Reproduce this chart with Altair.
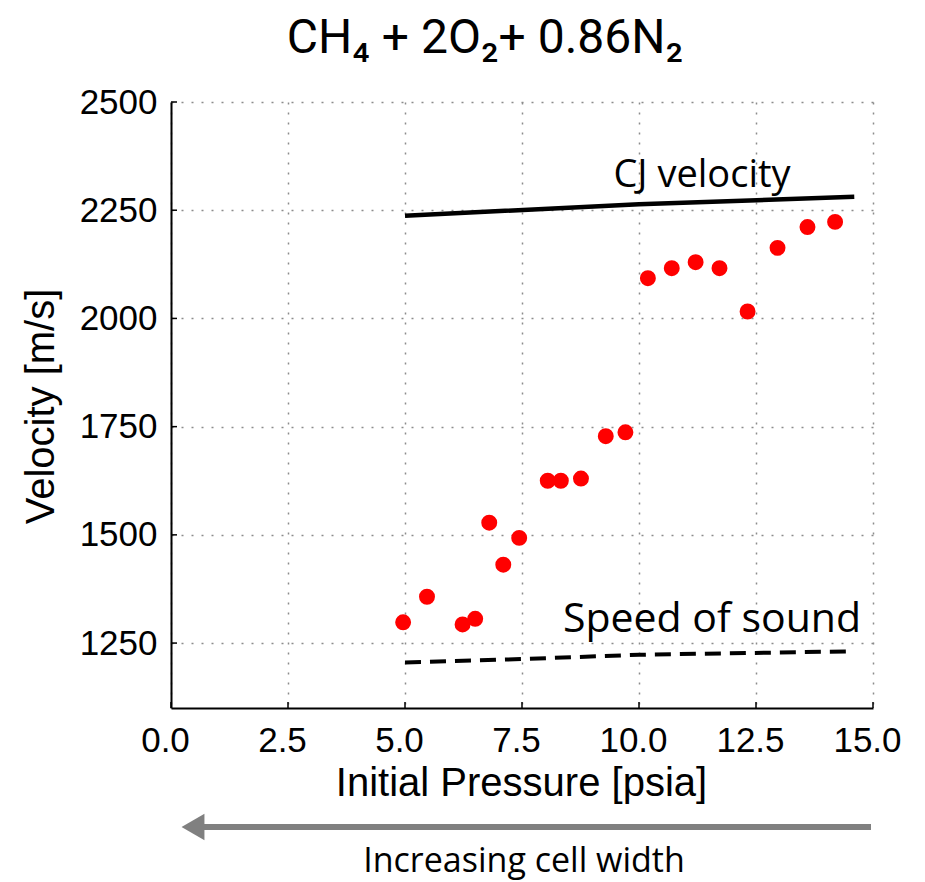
import altair as alt
import pandas as pd

# Measured data (red points)
pressure = [4.96, 5.47, 6.23, 6.50, 6.80, 7.10, 7.44, 8.05, 8.33, 8.76,
            9.29, 9.71, 10.19, 10.70, 11.21, 11.72, 12.32, 12.96, 13.60, 14.19]
velocity = [1298, 1357, 1293, 1306, 1528, 1431, 1493, 1625, 1625, 1630,
            1728, 1737, 2093, 2116, 2130, 2116, 2016, 2163, 2211, 2223]

# Reference curves
cj_pressure = [5.0, 10.0, 14.6]
cj_velocity = [2237, 2264, 2281]
sound_pressure = [5.0, 7.5, 10.0, 14.6]
sound_velocity = [1205, 1213, 1223, 1231]

x_ticks = [0, 2.5, 5, 7.5, 10, 12.5, 15]
y_ticks = [1250, 1500, 1750, 2000, 2250, 2500]

title_text = ["CH\u2084 + 2O\u2082+ 0.86N\u2082"]
cj_label = ["CJ velocity"]
sound_label = ["Speed of sound"]
arrow_label = ["Increasing cell width"]

W, H = 702, 606

xs = alt.Scale(domain=[0, 15], nice=False, zero=False)
ys = alt.Scale(domain=[1100, 2500], nice=False, zero=False)

grid_kw = dict(grid=True, gridColor="#8c8c8c", gridDash=[2, 8], gridWidth=1.5,
               domainColor="black", domainWidth=2, tickSize=0,
               labelFont="Liberation Sans", labelFontSize=35, labelColor="black",
               labelFlush=False, labelOverlap=False,
               titleFont="Liberation Sans", titleFontSize=40, titleFontWeight="normal",
               titleColor="black")

x_axis = alt.Axis(values=x_ticks, format=".1f", labelPadding=15, labelOffset=-6,
                  title="Initial Pressure [psia]", titleX=350, titleY=87,
                  titleAlign="center", titleBaseline="alphabetic", **grid_kw)
y_axis = alt.Axis(values=y_ticks, format="d", labelPadding=14,
                  title="Velocity [m/s]", titleX=-130, titleY=304, titleAngle=270,
                  titleAlign="center", titleBaseline="middle", **grid_kw)

pts_df = pd.DataFrame({"p": pressure, "v": velocity})
cj_df = pd.DataFrame({"p": cj_pressure, "v": cj_velocity})
snd_df = pd.DataFrame({"p": sound_pressure, "v": sound_velocity})

points = alt.Chart(pts_df).mark_circle(size=254, color="#ff0000", opacity=1).encode(
    x=alt.X("p:Q", scale=xs, axis=x_axis),
    y=alt.Y("v:Q", scale=ys, axis=y_axis),
)

cj_line = alt.Chart(cj_df).mark_line(color="black", strokeWidth=4.5).encode(
    x=alt.X("p:Q", scale=xs),
    y=alt.Y("v:Q", scale=ys),
)

sound_line = alt.Chart(snd_df).mark_line(color="black", strokeWidth=4, strokeDash=[16, 9]).encode(
    x=alt.X("p:Q", scale=xs),
    y=alt.Y("v:Q", scale=ys),
)

xt = alt.Chart(pd.DataFrame({"p": x_ticks})).mark_rule(color="black", strokeWidth=1.5).encode(
    x=alt.X("p:Q", scale=xs),
    y=alt.value(H), y2=alt.value(H - 6),
)
yt = alt.Chart(pd.DataFrame({"v": y_ticks})).mark_rule(color="black", strokeWidth=1.5).encode(
    y=alt.Y("v:Q", scale=ys),
    x=alt.value(0), x2=alt.value(6),
)


def label(texts, x, y, size, font="Open Sans", align="center", color="black"):
    return alt.Chart(pd.DataFrame({"label": texts})).mark_text(
        font=font, fontSize=size, align=align, baseline="alphabetic", color=color
    ).encode(text="label:N", x=alt.value(x), y=alt.value(y))


title = label(title_text, 314, -49, 48, font="Roboto")
cj_text = label(cj_label, 531, 85, 38)
sound_text = label(sound_label, 541, 530, 41)
arrow_text = label(arrow_label, 353, 770, 34)

arrow_line = alt.Chart(pd.DataFrame({"a": [0]})).mark_rule(color="#808080", strokeWidth=6).encode(
    x=alt.value(30), x2=alt.value(700), y=alt.value(725)
)
arrow_head = alt.Chart(pd.DataFrame({"a": [0]})).mark_point(
    shape="triangle-left", filled=True, size=700, color="#808080", opacity=1
).encode(x=alt.value(22), y=alt.value(725))

chart = alt.layer(
    points, cj_line, sound_line, xt, yt, title, cj_text, sound_text,
    arrow_line, arrow_head, arrow_text
).properties(
    width=W, height=H,
    autosize=alt.AutoSizeParams(type="none"),
    padding={"left": 163, "top": 94, "right": 40, "bottom": 174},
).configure_view(stroke=None)

chart.save("out.html", embed_options={"renderer": "svg", "actions": False})
